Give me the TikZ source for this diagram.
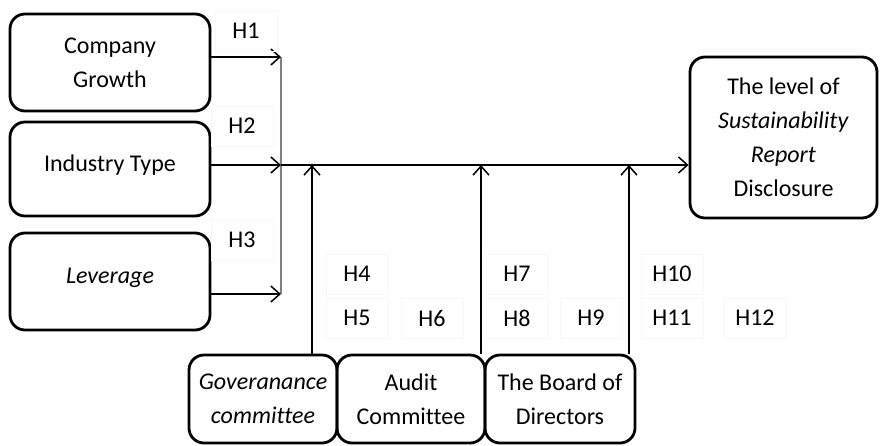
\documentclass[tikz,border=0pt]{standalone}
\usepackage{fontspec}
\setmainfont[Ligatures=NoCommon,Contextuals=NoAlternate]{Carlito}
\usetikzlibrary{arrows.meta}
\begin{document}
\begin{tikzpicture}[x=1pt,y=-1pt,
  box/.style={draw=black,line width=2.8pt,rounded corners=15pt,inner sep=0pt,
    align=center,font=\fontsize{24}{34}\selectfont},
  hlab/.style={draw=black!3,line width=0.6pt,minimum width=62pt,minimum height=40pt,
    inner sep=0pt,font=\fontsize{24}{28}\selectfont},
  arr/.style={line width=1.5pt,-{Straight Barb[length=9pt,width=16pt,line width=1.5pt]}},
  conn/.style={line width=1.6pt,draw=black!50}
]
\useasboundingbox (0,0) rectangle (881,445);
% left boxes
\node[box,minimum width=200pt,minimum height=97pt] (cg) at (110,62.5) {Company\\Growth};
\node[box,minimum width=200pt,minimum height=94pt] (it) at (110,169) {\raisebox{12pt}{Industry Type}};
\node[box,minimum width=200pt,minimum height=97pt] (lev) at (110,281.5) {\raisebox{11pt}{\textit{Leverage}}};
% result
\node[box,minimum width=187pt,minimum height=161pt] (res) at (783.5,137.5) {The level of\\\textit{Sustainability}\\\textit{Report}\\Disclosure};
% bottom boxes
\node[box,minimum width=148pt,minimum height=88pt] (gov) at (263,399) {\textit{Goveranance}\\\textit{committee}};
\node[box,minimum width=148pt,minimum height=88pt] (aud) at (411,399) {Audit\\Com{}mit{}tee};
\node[box,minimum width=150pt,minimum height=88pt] (bod) at (560,399) {The Board of\\Directors};
% junctions
\coordinate (j1) at (281,57);
\coordinate (j2) at (281,165);
\coordinate (j3) at (281,294);
\coordinate (m1) at (312,165);
\coordinate (m2) at (481,165);
\coordinate (m3) at (629,165);
% connectors
\draw[conn] (j1) -- (j3);
\draw[arr] (cg.east |- j1) -- (j1);
\draw[arr] (it.east |- j2) -- (j2);
\draw[arr] (lev.east |- j3) -- (j3);
\draw[arr] (j2) -- (res.west |- j2);
\draw[arr] (gov.north -| m1) -- (m1);
\draw[arr] (aud.north -| m2) -- (m2);
\draw[arr] (bod.north -| m3) -- (m3);
% labels
\node[hlab] (h1) at (246,31) {H1};
\node[hlab] (h2) at (242,126) {H2};
\node[hlab] (h3) at (242,240) {H3};
\node[hlab] (h4) at (357,274) {H4};
\node[hlab] (h5) at (357,318) {H5};
\node[hlab] (h6) at (432,318) {H6};
\node[hlab] (h7) at (517,274) {H7};
\node[hlab] (h8) at (517,318) {H8};
\node[hlab] (h9) at (591,318) {H9};
\node[hlab] (h10) at (672,274) {H10};
\node[hlab] (h11) at (672,318) {H11};
\node[hlab] (h12) at (755,318) {H12};
\end{tikzpicture}
\end{document}
